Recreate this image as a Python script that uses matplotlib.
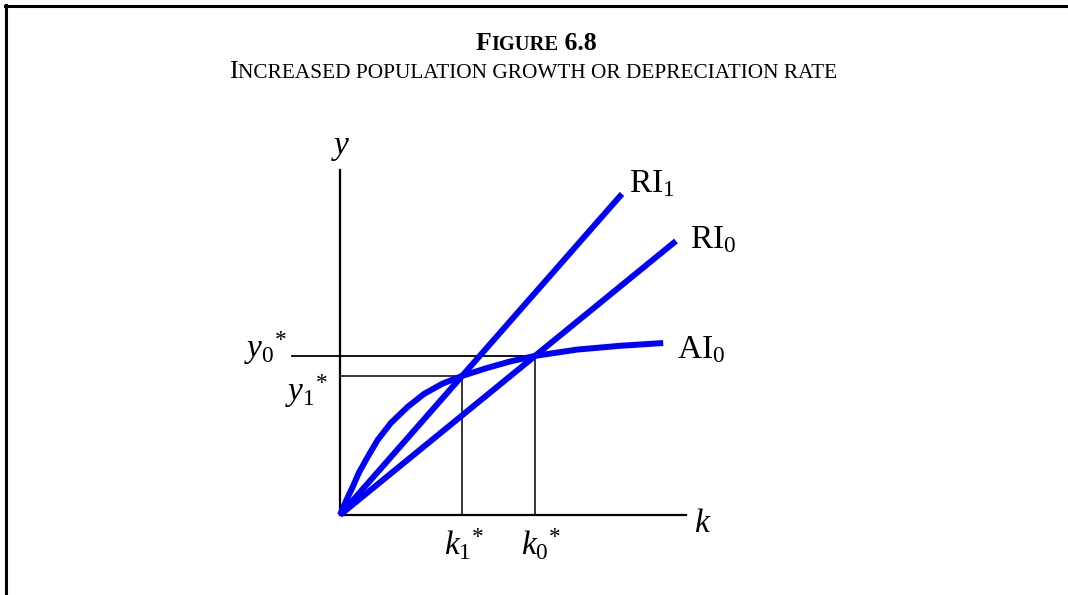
import matplotlib
matplotlib.use("Agg")
import matplotlib.pyplot as plt
from matplotlib.lines import Line2D

plt.rcParams['font.family'] = ['Liberation Serif', 'DejaVu Serif']
plt.rcParams['mathtext.fontset'] = 'custom'
plt.rcParams['mathtext.rm'] = 'Liberation Serif'
plt.rcParams['mathtext.it'] = 'Liberation Serif:italic'

W, H = 1068, 595
BLUE = "#0000FF"

# ---- diagram values (k on the x axis, y on the y axis)
k1_star, y1_star = 3.53, 4.02
k0_star, y0_star = 5.64, 4.60

# AI0
ai0_k = [0, 0.18, 0.37, 0.54, 0.80, 1.09, 1.47, 1.96, 2.43, 2.97,
         3.53, 4.22, 4.89, 5.64, 6.85, 8.09, 9.34]
ai0_y = [0, 0.42, 0.82, 1.21, 1.68, 2.17, 2.66, 3.13, 3.50, 3.80,
         4.02, 4.24, 4.43, 4.60, 4.78, 4.89, 4.97]

ri1_k = [0, 8.15]
ri1_y = [0, 9.28]
ri0_k = [0, 9.71]
ri0_y = [0, 7.92]

x_axis_len = 10.0
y_axis_len = 9.97
y0_line_start = -1.39


def px(x, y):
    # pixel position -> figure fraction
    return x / W, 1 - y / H


def caps_line(fig, xc, yb, parts, weight='normal'):
    """Fake small caps: draw pieces of text side by side, centred at xc."""
    texts = [fig.text(0, 1 - yb / H, s, fontsize=fs, weight=weight,
                      va='baseline', ha='left') for s, fs in parts]
    r = fig.canvas.get_renderer()
    widths = [t.get_window_extent(r).width for t in texts]
    x = xc - sum(widths) / 2
    for t, w in zip(texts, widths):
        t.set_x(x / W)
        x += w


fig = plt.figure(figsize=(W / 100, H / 100), dpi=100)

# frame lines at top and left
fig.add_artist(Line2D([5 / W, 1], [1 - 6 / H, 1 - 6 / H], color='black', lw=2.2))
fig.add_artist(Line2D([6 / W, 6 / W], [1 - 5 / H, 0], color='black', lw=2.2))

# axes: origin at pixel (340, 515), 34.6 px per unit
scale = 34.6
ax = fig.add_axes([340 / W, (H - 515) / H, 10 * scale / W, 10 * scale / H])
ax.set_xlim(0, 10)
ax.set_ylim(0, 10)
ax.axis('off')

ax.plot([0, x_axis_len], [0, 0], color='black', lw=1.6, clip_on=False)
ax.plot([0, 0], [0, y_axis_len], color='black', lw=1.6, clip_on=False)

# guide lines
ax.plot([y0_line_start, k0_star], [y0_star, y0_star], color='black', lw=1.3, clip_on=False)
ax.plot([0, k1_star], [y1_star, y1_star], color='black', lw=1.1, clip_on=False)
ax.plot([k1_star, k1_star], [0, y1_star], color='black', lw=1.1, clip_on=False)
ax.plot([k0_star, k0_star], [0, y0_star], color='black', lw=1.1, clip_on=False)

# curves
for kk, yy in [(ri1_k, ri1_y), (ri0_k, ri0_y), (ai0_k, ai0_y)]:
    ax.plot(kk, yy, color=BLUE, lw=4.3, solid_capstyle='butt',
            solid_joinstyle='round', clip_on=False)

# labels
fs = 24
fig.text(*px(341, 154), 'y', fontsize=fs, style='italic', ha='center', va='baseline')
fig.text(*px(694, 532), 'k', fontsize=fs, style='italic', ha='left', va='baseline')
fig.text(*px(287, 358), r'$y_0{}^{*}$', fontsize=fs, ha='right', va='baseline')
fig.text(*px(328, 401), r'$y_1{}^{*}$', fontsize=fs, ha='right', va='baseline')
fig.text(*px(444, 555), r'$k_1{}^{*}$', fontsize=fs, ha='left', va='baseline')
fig.text(*px(521, 555), r'$k_0{}^{*}$', fontsize=fs, ha='left', va='baseline')
fig.text(*px(629, 192), r'RI$_1$', fontsize=fs, ha='left', va='baseline')
fig.text(*px(690, 248), r'RI$_0$', fontsize=fs, ha='left', va='baseline')
fig.text(*px(677, 358), r'AI$_0$', fontsize=fs, ha='left', va='baseline')

# title block
caps_line(fig, 536, 50, [('F', 18.5), ('IGURE', 14.8), (' 6.8', 18.5)], weight='bold')
caps_line(fig, 533, 78, [('I', 19),
                         ('NCREASED POPULATION GROWTH OR DEPRECIATION RATE', 15.3)])

fig.savefig('out.png', dpi=100)
